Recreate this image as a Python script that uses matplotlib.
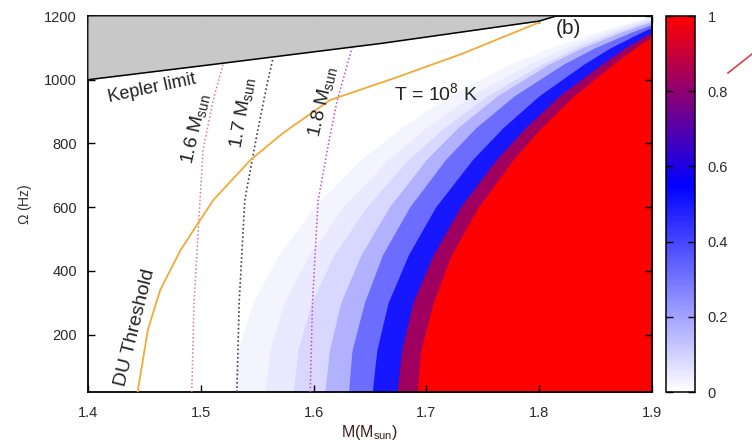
import matplotlib
matplotlib.use("Agg")
import matplotlib.pyplot as plt
from matplotlib.colors import LinearSegmentedColormap, Normalize
from matplotlib.cm import ScalarMappable
from matplotlib.lines import Line2D

plt.rcParams["font.family"] = ["Liberation Sans", "DejaVu Sans"]
plt.rcParams["mathtext.fontset"] = "custom"
plt.rcParams["mathtext.rm"] = "Liberation Sans"
plt.rcParams["mathtext.it"] = "Liberation Sans:italic"

# rotation frequency grid on which the colour-band edges were read
OMEGA_GRID = [20, 150, 300, 450, 600, 750, 850, 950, 1050, 1100, 1150, 1200]

# band edges (mass where the fraction steps up), left to right
EDGE_0 = [1.528, 1.533, 1.546, 1.569, 1.600, 1.642, 1.678, 1.720, 1.775, 1.810, 1.852, 1.900]
EDGE_1 = [1.557, 1.561, 1.574, 1.596, 1.626, 1.666, 1.700, 1.740, 1.791, 1.823, 1.860, 1.902]
EDGE_2 = [1.582, 1.586, 1.598, 1.618, 1.647, 1.684, 1.716, 1.754, 1.803, 1.832, 1.867, 1.908]
EDGE_3 = [1.610, 1.614, 1.624, 1.642, 1.667, 1.700, 1.728, 1.763, 1.809, 1.838, 1.873, 1.914]
EDGE_4 = [1.631, 1.634, 1.645, 1.661, 1.685, 1.717, 1.744, 1.778, 1.822, 1.849, 1.882, 1.920]
EDGE_5 = [1.652, 1.656, 1.666, 1.684, 1.708, 1.741, 1.768, 1.800, 1.840, 1.863, 1.891, 1.922]
EDGE_6 = [1.674, 1.678, 1.688, 1.706, 1.730, 1.762, 1.788, 1.818, 1.856, 1.876, 1.900, 1.927]
EDGE_7 = [1.692, 1.695, 1.706, 1.722, 1.746, 1.777, 1.802, 1.831, 1.866, 1.885, 1.907, 1.932]

# value to the right of each edge
BAND_VALUES = [0.024, 0.05, 0.088, 0.17, 0.317, 0.50, 0.83, 1.0]

# Kepler limit
KEPLER_M = [1.4, 1.52, 1.66, 1.80, 1.815]
KEPLER_OMEGA = [1000, 1052, 1114, 1184, 1200]

# T = 1e8 K / DU threshold curve
T_M = [1.444, 1.453, 1.464, 1.482, 1.511, 1.544, 1.573, 1.6145, 1.674, 1.732, 1.800]
T_OMEGA = [20, 214, 340, 465, 622, 748, 833, 936, 1008, 1082, 1180]

# constant gravitational mass lines
M16_M = [1.492, 1.494, 1.4993, 1.502, 1.511, 1.520]
M16_OMEGA = [20, 300, 622, 779, 936, 1052]
M17_M = [1.532, 1.534, 1.539, 1.550, 1.559, 1.564]
M17_OMEGA = [20, 300, 622, 833, 990, 1068]
M18_M = [1.597, 1.599, 1.604, 1.615, 1.621, 1.634]
M18_OMEGA = [20, 300, 622, 833, 936, 1100]

X_TICKS = [1.4, 1.5, 1.6, 1.7, 1.8, 1.9]
Y_TICKS = [200, 400, 600, 800, 1000, 1200]
CB_TICKS = [0, 0.2, 0.4, 0.6, 0.8, 1]

cmap = LinearSegmentedColormap.from_list("wbr", [(0, "white"), (0.55, "blue"), (1, "red")])
norm = Normalize(0, 1)

fig = plt.figure(figsize=(7.52, 4.48), dpi=100)
ax = fig.add_axes([88 / 752, 56 / 448, 564 / 752, 376 / 448])

edges = [EDGE_0, EDGE_1, EDGE_2, EDGE_3, EDGE_4, EDGE_5, EDGE_6, EDGE_7]
right = [2.0] * len(OMEGA_GRID)
for edge, val in zip(edges, BAND_VALUES):
	ax.fill_betweenx(OMEGA_GRID, edge, right, color=cmap(norm(val)), lw=0, zorder=1)

ax.plot(M16_M, M16_OMEGA, ls=(0, (1, 1.5)), color="#e07898", lw=1.1, zorder=3)
ax.plot(M17_M, M17_OMEGA, ls=(0, (1, 1.5)), color="#4a3858", lw=1.2, zorder=3)
ax.plot(M18_M, M18_OMEGA, ls=(0, (1, 1.5)), color="#c848c8", lw=1.1, zorder=3)
ax.plot(T_M, T_OMEGA, color="#f0aa38", lw=1.3, zorder=3)

ax.fill_between(KEPLER_M, KEPLER_OMEGA, 1200, color="#c8c8c8", lw=0, zorder=4)
ax.plot(KEPLER_M, KEPLER_OMEGA, color="black", lw=1.1, zorder=5)

txt = dict(color="#222222", fontsize=14, ha="center", va="center", zorder=6)
ax.text(1.457, 972, "Kepler limit", rotation=12, **dict(txt, fontsize=13))
ax.text(1.709, 958, r"T = 10$^8$ K", **txt)
ax.text(1.4417, 222, "DU Threshold", rotation=76, **txt)
ax.text(1.495, 848, r"1.6 M$_\mathrm{sun}$", rotation=77, **txt)
ax.text(1.5365, 895, r"1.7 M$_\mathrm{sun}$", rotation=80, **txt)
ax.text(1.6074, 930, r"1.8 M$_\mathrm{sun}$", rotation=77, **txt)
ax.text(1.8255, 1160, "(b)", color="#222222", fontsize=15, ha="center", va="center", zorder=6)

ax.set_xlim(1.4, 1.9)
ax.set_ylim(20, 1200)
ax.set_xticks(X_TICKS)
ax.set_xticklabels([f"{v:.1f}" for v in X_TICKS])
ax.set_yticks(Y_TICKS)
ax.tick_params(direction="in", length=5, width=1, top=True, right=True,
			labelsize=10.5, labelcolor="#2a2a2a")
ax.tick_params(axis="y", pad=8)
ax.tick_params(axis="x", pad=10)
for s in ax.spines.values():
	s.set_linewidth(1.3)
ax.set_xlabel(r"M(M$_\mathrm{sun}$)", fontsize=11.5, color="#3a2020", labelpad=2)
ax.set_ylabel(r"$\Omega$ (Hz)", fontsize=10, color="#333333", labelpad=7)

cax = fig.add_axes([666 / 752, 56 / 448, 29 / 752, 376 / 448])
cb = fig.colorbar(ScalarMappable(norm=norm, cmap=cmap), cax=cax)
cb.set_ticks(CB_TICKS)
cb.set_ticklabels(["0", "0.2", "0.4", "0.6", "0.8", "1"])
cb.outline.set_linewidth(1.1)
cax.tick_params(direction="in", length=5, width=1, left=True, right=True,
			labelsize=10.5, labelcolor="#2a2a2a", pad=9)

fig.add_artist(Line2D([728 / 752, 752 / 752], [1 - 73 / 448, 1 - 54 / 448],
					color="#d84050", lw=1.2))

fig.savefig("out.png", dpi=100, facecolor="white")
